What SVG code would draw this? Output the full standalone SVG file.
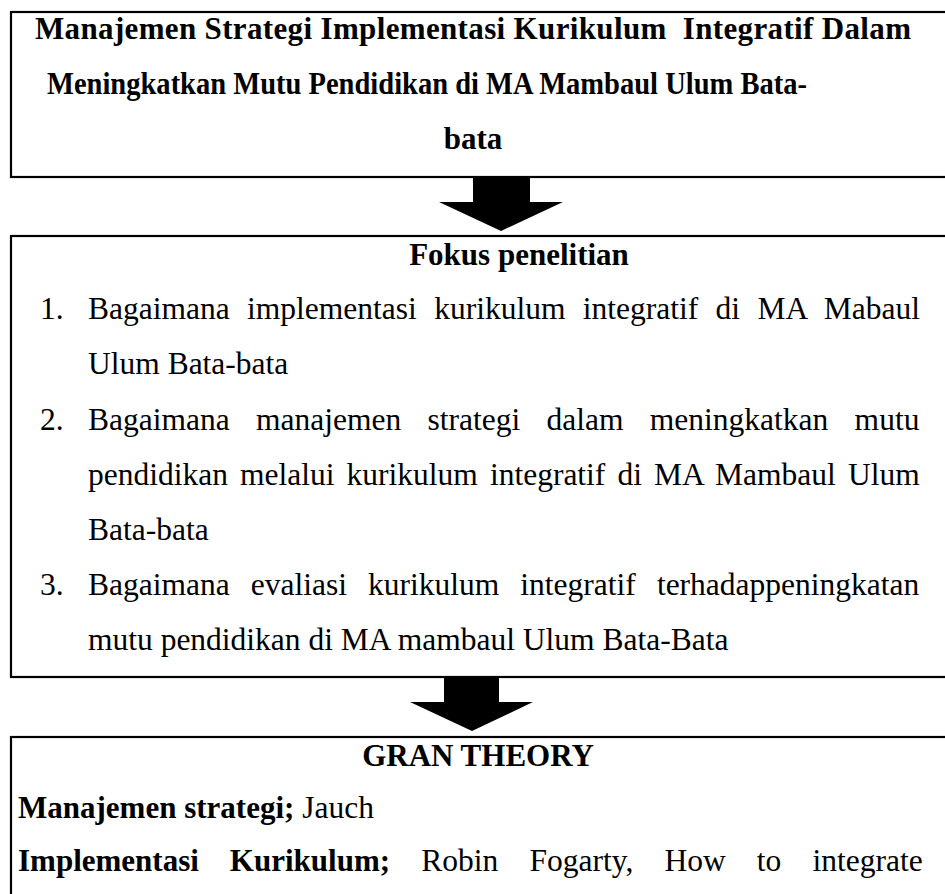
<svg xmlns="http://www.w3.org/2000/svg" width="945" height="894" viewBox="0 0 945 894">
<style>
.box{fill:#fff;stroke:#000;stroke-width:2.2}
.arrow{fill:#000;stroke:none}
text{font-family:"Liberation Serif","Times New Roman",serif;font-size:31.5px;fill:#000}
.b{font-weight:bold;font-size:31px}
</style>
<rect width="945" height="894" fill="#fff"/>
<g id="connectors">
<polygon class="arrow" points="473,178 530,178 530,202 563,202 501,231 439,202 473,202"/>
<polygon class="arrow" points="444,678 499,678 499,702 533,702 472,731 410,702 444,702"/>
</g>
<g id="node-title">
<rect class="box" x="11" y="12" width="950" height="165"/>
<text class="b" x="35" y="39" textLength="876" lengthAdjust="spacing" xml:space="preserve">Manajemen Strategi Implementasi Kurikulum  Integratif Dalam</text>
<text class="b" x="47" y="94" textLength="760" lengthAdjust="spacingAndGlyphs">Meningkatkan Mutu Pendidikan di MA Mambaul Ulum Bata-</text>
<text class="b" x="473" y="149" text-anchor="middle">bata</text>
</g>
<g id="node-fokus">
<rect class="box" x="11" y="236" width="950" height="441"/>
<text class="b" x="519" y="265" text-anchor="middle">Fokus penelitian</text>
<text x="40" y="319">1.</text>
<text x="88" y="319" word-spacing="9.5">Bagaimana implementasi kurikulum integratif di MA Mabaul</text>
<text x="88" y="374">Ulum Bata-bata</text>
<text x="40" y="430">2.</text>
<text x="88" y="430" word-spacing="18.45">Bagaimana manajemen strategi dalam meningkatkan mutu</text>
<text x="88" y="485" word-spacing="4.2">pendidikan melalui kurikulum integratif di MA Mambaul Ulum</text>
<text x="88" y="540">Bata-bata</text>
<text x="40" y="595">3.</text>
<text x="88" y="595" word-spacing="13.2">Bagaimana evaliasi kurikulum integratif terhadappeningkatan</text>
<text x="88" y="650">mutu pendidikan di MA mambaul Ulum Bata-Bata</text>
</g>
<g id="node-theory">
<rect class="box" x="11" y="737" width="950" height="200"/>
<text class="b" x="478" y="766" text-anchor="middle">GRAN THEORY</text>
<text x="18" y="818"><tspan class="b">Manajemen strategi;</tspan> Jauch</text>
<text x="18" y="871" word-spacing="23.3"><tspan class="b">Implementasi Kurikulum;</tspan> Robin Fogarty, How to integrate</text>
</g>
</svg>
